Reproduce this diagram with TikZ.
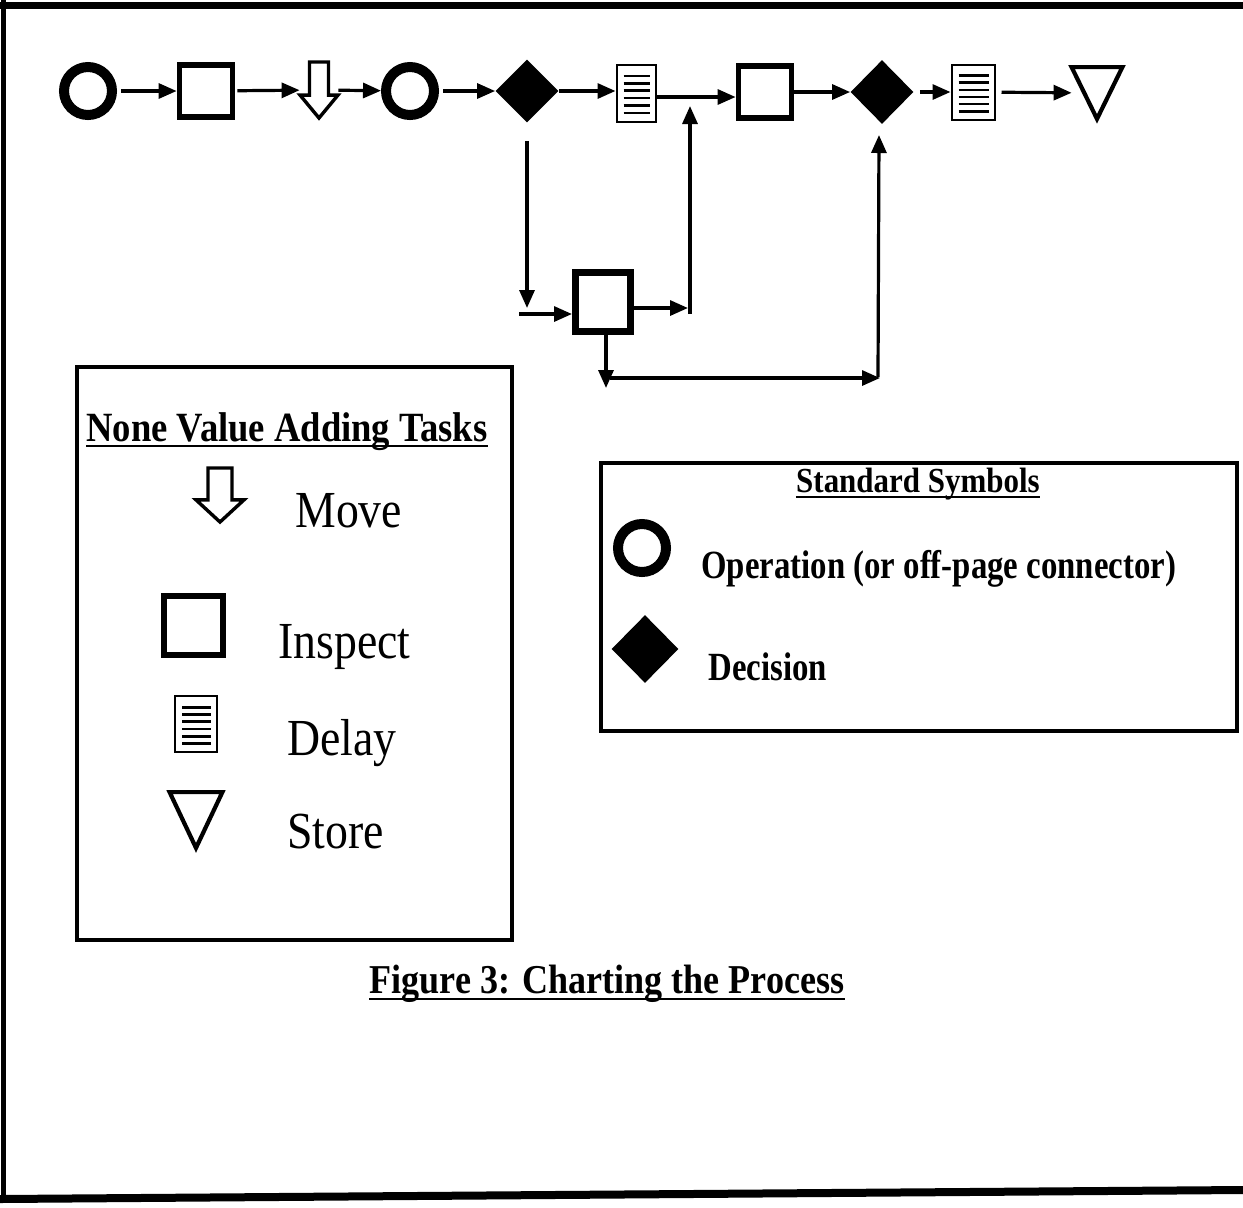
\documentclass[tikz,border=0pt]{standalone}
\usepackage{fontspec}
\setmainfont{Liberation Serif}
\newfontfamily\condfont[FakeStretch=0.88]{Liberation Serif}
\newfontfamily\narrowfont[FakeStretch=0.82]{Liberation Serif}
\usetikzlibrary{arrows.meta,shapes.geometric,calc}
\newcommand\movesym[3]{%
  \draw[mvline, shift={(#1.center)}, xscale=#2, yscale=#3]
    (-0.25,-0.5) -- (0.25,-0.5) -- (0.25,0.09) -- (0.5,0.09) -- (0,0.5)
    -- (-0.5,0.09) -- (-0.25,0.09) -- cycle;}
\newcommand\storesym[1]{%
  \draw[stline] (#1.north west) -- (#1.north east) -- (#1.south) -- cycle;}
\begin{document}
\begin{tikzpicture}[x=0.5pt,y=-0.5pt,
  op/.style={circle, draw, line width=5pt, minimum size=24pt, inner sep=0pt},
  insp/.style={rectangle, draw, line width=2.9pt, minimum width=26.5pt, minimum height=26pt, inner sep=0pt, fill=white},
  dec/.style={diamond, fill=black, inner sep=0pt, minimum width=31.5pt, minimum height=31.5pt},
  delay/.style={rectangle, draw, line width=1pt, fill=white, inner sep=0pt,
    path picture={
      \foreach \f in {0.2,0.33,0.46,0.59,0.72,0.85}
        \draw[line width=1.3pt]
          ($(path picture bounding box.north west)!\f!(path picture bounding box.south west)+(3.5pt,0)$) --
          ($(path picture bounding box.north east)!\f!(path picture bounding box.south east)+(-3pt,0)$);
    }},
  movebox/.style={rectangle, inner sep=0pt},
  storebox/.style={rectangle, inner sep=0pt},
  mvline/.style={draw, line width=1.7pt, line join=miter},
  stline/.style={draw, line width=2.1pt, line join=miter},
  conn/.style={draw, line width=1.6pt, -{Triangle[length=9pt,width=7.5pt]}},
  frame/.style={draw, line width=2pt},
  uline/.style={draw, line width=1pt},
  legtext/.style={anchor=base west, inner sep=0pt, font=\condfont\fontsize{26}{30}\selectfont},
  symtext/.style={anchor=base west, inner sep=0pt, font=\narrowfont\bfseries\fontsize{20}{24}\selectfont},
  headtext/.style={anchor=base, inner sep=0pt, font=\condfont\bfseries\fontsize{20.8}{24}\selectfont}
]
\useasboundingbox (0,0) rectangle (1243,1207);
\fill[white] (0,0) rectangle (1243,1207);

% outer frame
\draw[line width=3.5pt] (0,5) -- (1243,5);
\draw[line width=2.5pt] (3,0) -- (3,1200);
\draw[line width=4pt] (0,1199) -- (1243,1190);

% ---------- top process row ----------
\node[op] (c1) at (88,91) {};
\node[insp] (s1) at (206,91) {};
\node[movebox, minimum width=19pt, minimum height=28pt] (m1) at (319,90) {};
\movesym{m1}{38}{56}
\node[op] (c2) at (410,91) {};
\node[dec] (d1) at (527,91) {};
\node[delay, minimum width=19.5pt, minimum height=28.5pt] (l1) at (636,93) {};
\node[insp] (s2) at (765,92) {};
\node[dec, minimum height=32pt] (d2) at (882,92) {};
\node[delay, minimum width=21.5pt, minimum height=27.5pt] (l2) at (973,92) {};
\node[storebox, minimum width=25pt, minimum height=25.5pt] (t1) at (1097,93) {};
\storesym{t1}

\draw[conn, shorten <=2pt] (c1) -- (s1);
\draw[conn, shorten <=1pt] (s1) -- (m1);
\draw[conn] (m1) -- (c2);
\draw[conn, shorten <=2pt] (c2) -- (d1);
\draw[conn] (d1.east) -- (d1.east -| l1.west);
\draw[conn] ([yshift=-2pt]l1.east) -- ([yshift=-2pt]l1.east -| s2.west);
\draw[conn] (s2) -- (d2);
\draw[conn, shorten <=3pt] (d2) -- (l2);
\draw[conn, shorten <=3pt] (l2) -- (t1);

% ---------- branch ----------
\coordinate (b1) at (527,308);
\draw[conn, shorten <=9pt] (d1.south) -- (b1);
\node[insp, line width=3.5pt, minimum width=27.5pt, minimum height=29.5pt] (s3) at (603,302) {};
\coordinate (b2) at (519,314);
\draw[conn] (b2) -- (b2 -| s3.west);
\coordinate (b3) at (688,308);
\draw[conn] (s3.east |- b3) -- (b3);
\coordinate (b4) at (690,314);
\coordinate (j1) at (690,106);
\draw[conn] (b4) -- (j1);
\coordinate (b5) at (606,388);
\draw[conn] (s3.south -| b5) -- (b5);
\coordinate (b6) at (610,378);
\coordinate (b7) at (880,378);
\draw[conn] (b6) -- (b7);
\coordinate (b8) at (878,377);
\coordinate (j2) at (879,135);
\draw[conn] (b8) -- (j2);

% ---------- legend: none value adding tasks ----------
\draw[frame] (77,367) rectangle (512,940);
\node[headtext] (h1) at (287,441) {None Value Adding Tasks};
\draw[uline] ([yshift=-2.5pt]h1.base west) -- ([yshift=-2.5pt]h1.base east);

\node[movebox, minimum width=24pt, minimum height=27pt] (m2) at (220,495) {};
\movesym{m2}{48}{54}
\node[legtext] (tm) at (295,527) {Move};

\node[insp, line width=3pt, minimum width=29.5pt, minimum height=29.5pt] (s4) at (193,625) {};
\node[legtext] (ti) at (278,658) {Inspect};

\node[delay, minimum width=21pt, minimum height=28pt] (l3) at (196,724) {};
\node[legtext] (tdl) at (287,755) {Delay};

\node[storebox, minimum width=26pt, minimum height=27.5pt] (t2) at (196,820) {};
\storesym{t2}
\node[legtext] (ts) at (287,848) {Store};

% ---------- legend: standard symbols ----------
\draw[frame] (601,463) rectangle (1237,731);
\node[headtext, font=\condfont\bfseries\fontsize{17.6}{20}\selectfont] (h2) at (918,492) {Standard Symbols};
\draw[uline] ([yshift=-2.5pt]h2.base west) -- ([yshift=-2.5pt]h2.base east);

\node[op] (c3) at (642,548) {};
\node[symtext] (to) at (701,578) {Operation (or off-page connector)};
\node[dec, minimum width=33.5pt, minimum height=34pt] (d3) at (645,649) {};
\node[symtext] (td) at (708,680) {Decision};

% ---------- caption ----------
\node[headtext, font=\condfont\bfseries\fontsize{20.5}{24}\selectfont] (cap) at (607,993) {Figure 3: Charting the Process};
\draw[uline] ([yshift=-3pt]cap.base west) -- ([yshift=-3pt]cap.base east);
\end{tikzpicture}
\end{document}
